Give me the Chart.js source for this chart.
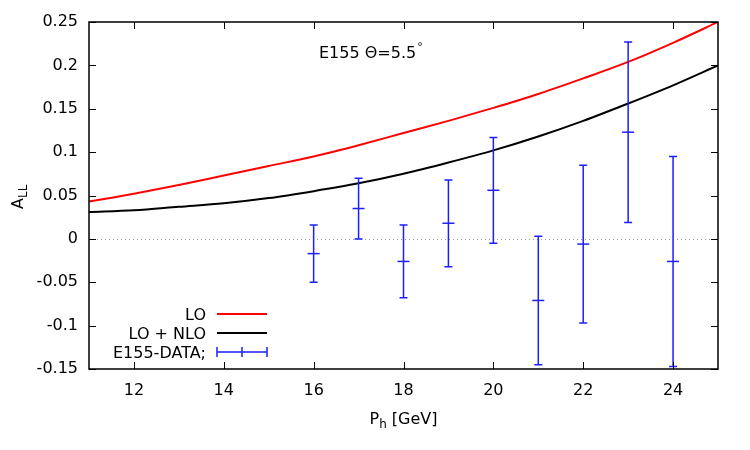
<!DOCTYPE html>
<html lang="en">
<head>
  <meta charset="UTF-8" />
  <title>E155 A_LL</title>
  <script src="https://cdn.jsdelivr.net/npm/chart.js"></script>
  <style>
    body {
      margin: 0;
      padding: 0;
      background-color: white;
    }
    canvas {
      display: block;
    }
  </style>
</head>
<body>
  <canvas id="allChart" width="750" height="450"></canvas>

  <script>
    // theory curves (P_h in GeV)
    const curveX = [11, 12, 13, 14, 15, 16, 17, 18, 19, 20, 21, 22, 23, 24, 25];
    const loValues = [0.043, 0.052, 0.062, 0.073, 0.084, 0.095, 0.108, 0.122, 0.136, 0.151, 0.167, 0.185, 0.204, 0.226, 0.25];
    const nloValues = [0.031, 0.033, 0.037, 0.041, 0.047, 0.055, 0.064, 0.075, 0.088, 0.102, 0.118, 0.136, 0.156, 0.177, 0.2];

    // E155 data with error bars
    const dataX = [16, 17, 18, 19, 20, 21, 22, 23, 24];
    const dataY = [-0.017, 0.035, -0.026, 0.018, 0.056, -0.071, -0.006, 0.123, -0.026];
    const dataLow = [-0.050, 0.000, -0.068, -0.032, -0.005, -0.145, -0.097, 0.019, -0.147];
    const dataHigh = [0.016, 0.070, 0.016, 0.068, 0.117, 0.003, 0.085, 0.227, 0.095];

    const xTicks = [12, 14, 16, 18, 20, 22, 24];
    const yTicks = [-0.15, -0.1, -0.05, 0, 0.05, 0.1, 0.15, 0.2, 0.25];
    const yTickLabels = ["-0.15", "-0.1", "-0.05", "0", "0.05", "0.1", "0.15", "0.2", "0.25"];

    const FONT = "DejaVu Sans";
    const BLUE = "rgb(30,30,255)";

    Chart.defaults.font.family = FONT;
    Chart.defaults.font.size = 16;
    Chart.defaults.color = "#000";

    function font(size) {
      return size + "px '" + FONT + "'";
    }

    // gnuplot-like frame, inner ticks, error bars, labels and legend
    const overlay = {
      id: "overlay",
      beforeDatasetsDraw(chart) {
        const ctx = chart.ctx;
        const a = chart.chartArea;
        const y0 = Math.round(chart.scales.y.getPixelForValue(0)) + 0.5;
        ctx.save();
        ctx.strokeStyle = "#999";
        ctx.lineWidth = 1;
        ctx.setLineDash([1, 3]);
        ctx.beginPath();
        ctx.moveTo(a.left, y0);
        ctx.lineTo(a.right, y0);
        ctx.stroke();
        ctx.restore();
      },
      afterDatasetsDraw(chart) {
        const ctx = chart.ctx;
        const a = chart.chartArea;
        const xs = chart.scales.x;
        const ys = chart.scales.y;

        ctx.save();
        // error bars
        ctx.strokeStyle = BLUE;
        ctx.lineWidth = 1.5;
        dataX.forEach((x, i) => {
          const px = xs.getPixelForValue(x);
          const yl = ys.getPixelForValue(dataLow[i]);
          const yh = ys.getPixelForValue(dataHigh[i]);
          ctx.beginPath();
          ctx.moveTo(px, yl);
          ctx.lineTo(px, yh);
          ctx.moveTo(px - 4, yl);
          ctx.lineTo(px + 4, yl);
          ctx.moveTo(px - 4, yh);
          ctx.lineTo(px + 4, yh);
          ctx.stroke();
        });

        // frame
        ctx.strokeStyle = "#000";
        ctx.lineWidth = 1.5;
        ctx.strokeRect(a.left, a.top, a.right - a.left, a.bottom - a.top);

        // inward ticks on all sides
        ctx.lineWidth = 1;
        ctx.beginPath();
        yTicks.forEach(v => {
          const py = Math.round(ys.getPixelForValue(v)) + 0.5;
          ctx.moveTo(a.left, py);
          ctx.lineTo(a.left + 7, py);
          ctx.moveTo(a.right, py);
          ctx.lineTo(a.right - 7, py);
        });
        xTicks.forEach(v => {
          const px = Math.round(xs.getPixelForValue(v)) + 0.5;
          ctx.moveTo(px, a.bottom);
          ctx.lineTo(px, a.bottom - 7);
          ctx.moveTo(px, a.top);
          ctx.lineTo(px, a.top + 7);
        });
        ctx.stroke();

        ctx.fillStyle = "#000";
        ctx.textBaseline = "alphabetic";

        // y axis title A_LL (rotated)
        ctx.save();
        ctx.translate(23, 209);
        ctx.rotate(-Math.PI / 2);
        ctx.textAlign = "left";
        ctx.font = font(16);
        ctx.fillText("A", 0, 0);
        const aw = ctx.measureText("A").width;
        ctx.font = font(12);
        ctx.fillText("LL", aw, 4);
        ctx.restore();

        // x axis title P_h [GeV]
        ctx.font = font(16);
        const pw = ctx.measureText("P").width;
        const rest = " [GeV]";
        const rw = ctx.measureText(rest).width;
        ctx.font = font(12);
        const hw = ctx.measureText("h").width;
        let sx = (a.left + a.right) / 2 - (pw + hw + rw) / 2;
        const by = 424;
        ctx.textAlign = "left";
        ctx.font = font(16);
        ctx.fillText("P", sx, by);
        ctx.font = font(12);
        ctx.fillText("h", sx + pw, by + 4);
        ctx.font = font(16);
        ctx.fillText(rest, sx + pw + hw, by);

        // plot label
        ctx.font = font(16);
        const label = "E155 \u0398=5.5";
        ctx.fillText(label, 319, 58);
        const lw = ctx.measureText(label).width;
        ctx.font = font(11);
        ctx.fillText("\u00b0", 319 + lw + 1, 50);

        // legend
        ctx.font = font(16);
        ctx.textAlign = "right";
        const legendRows = [
          { text: "LO", y: 314, color: "rgb(255,0,0)", bars: false },
          { text: "LO + NLO", y: 333, color: "#000", bars: false },
          { text: "E155-DATA;", y: 352, color: BLUE, bars: true }
        ];
        legendRows.forEach(r => {
          ctx.fillStyle = "#000";
          ctx.fillText(r.text, 206, r.y + 6);
          ctx.strokeStyle = r.color;
          ctx.lineWidth = r.bars ? 1.5 : 2;
          ctx.beginPath();
          ctx.moveTo(217, r.y);
          ctx.lineTo(267, r.y);
          if (r.bars) {
            ctx.moveTo(217, r.y - 5);
            ctx.lineTo(217, r.y + 5);
            ctx.moveTo(267, r.y - 5);
            ctx.lineTo(267, r.y + 5);
            ctx.moveTo(242, r.y - 5);
            ctx.lineTo(242, r.y + 5);
          }
          ctx.stroke();
        });

        ctx.restore();
      }
    };

    const ctx = document.getElementById("allChart").getContext("2d");

    new Chart(ctx, {
      type: "line",
      data: {
        datasets: [
          {
            label: "LO",
            data: curveX.map((x, i) => ({ x: x, y: loValues[i] })),
            borderColor: "rgb(255,0,0)",
            borderWidth: 2,
            pointRadius: 0,
            cubicInterpolationMode: "monotone",
            fill: false
          },
          {
            label: "LO + NLO",
            data: curveX.map((x, i) => ({ x: x, y: nloValues[i] })),
            borderColor: "#000",
            borderWidth: 2,
            pointRadius: 0,
            cubicInterpolationMode: "monotone",
            fill: false
          },
          {
            type: "scatter",
            label: "E155-DATA;",
            data: dataX.map((x, i) => ({ x: x, y: dataY[i] })),
            borderColor: BLUE,
            backgroundColor: BLUE,
            borderWidth: 1.5,
            pointStyle: "line",
            pointRadius: 6,
            pointHoverRadius: 6
          }
        ]
      },
      options: {
        responsive: false,
        animation: false,
        layout: {
          padding: { left: 0, right: 32, top: 22, bottom: 0 }
        },
        plugins: {
          legend: { display: false },
          title: { display: false },
          tooltip: { enabled: false }
        },
        scales: {
          x: {
            type: "linear",
            min: 11,
            max: 25,
            grid: { display: false, drawTicks: false },
            border: { display: false },
            afterBuildTicks: s => { s.ticks = xTicks.map(v => ({ value: v })); },
            afterFit: s => { s.height = 81; },
            ticks: {
              padding: 12,
              maxRotation: 0,
              callback: v => String(v)
            }
          },
          y: {
            type: "linear",
            min: -0.15,
            max: 0.25,
            grid: { display: false, drawTicks: false },
            border: { display: false },
            afterBuildTicks: s => { s.ticks = yTicks.map(v => ({ value: v })); },
            afterFit: s => { s.width = 89; },
            ticks: {
              padding: 11,
              callback: (v, i) => yTickLabels[i]
            }
          }
        }
      },
      plugins: [overlay]
    });
  </script>
</body>
</html>
